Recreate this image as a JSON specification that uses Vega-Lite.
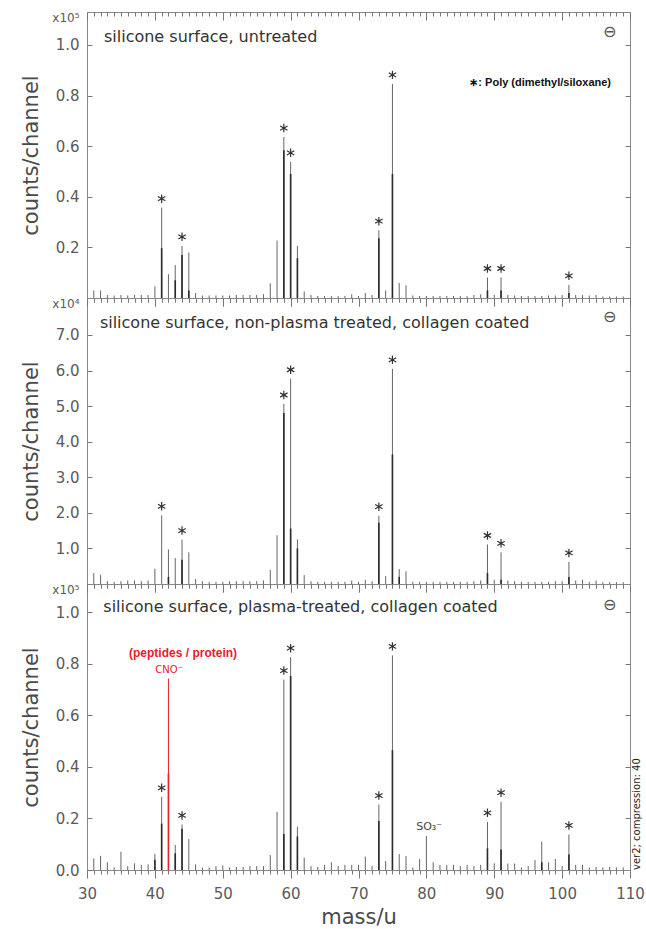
{
"$schema": "https://vega.github.io/schema/vega-lite/v6.json",
"padding": {"left": 20, "top": 10, "right": 2, "bottom": 0},
"bounds": "flush",
"spacing": 0,
"config": {
  "font": "DejaVu Sans",
  "view": {"stroke": "#888", "strokeWidth": 1},
  "axis": {"domain": false, "grid": false, "labelFont": "DejaVu Sans", "labelFontSize": 15, "labelColor": "#5a5a5a", "tickColor": "#777", "tickWidth": 1, "titleFont": "DejaVu Sans", "titleFontSize": 21, "titleFontWeight": "normal", "titleColor": "#4a4a4a", "labelOverlap": false}
},
"datasets": {
"p1": [
{"m":31,"v":0.03},{"m":32,"v":0.03},{"m":33,"v":0.012},{"m":34,"v":0.01},{"m":35,"v":0.012},{"m":36,"v":0.01},{"m":37,"v":0.012},{"m":38,"v":0.012},{"m":39,"v":0.012},{"m":40,"v":0.046},
{"m":41,"v":0.357,"c":0.197,"s":1},{"m":42,"v":0.094},{"m":43,"v":0.13,"c":0.07},{"m":44,"v":0.206,"c":0.17,"s":1},{"m":45,"v":0.18,"c":0.03},{"m":46,"v":0.02},{"m":47,"v":0.01},{"m":48,"v":0.01},{"m":49,"v":0.01},{"m":50,"v":0.01},
{"m":51,"v":0.01},{"m":52,"v":0.012},{"m":53,"v":0.012},{"m":54,"v":0.012},{"m":55,"v":0.012},{"m":56,"v":0.015},{"m":57,"v":0.058},{"m":58,"v":0.227},{"m":59,"v":0.636,"c":0.584,"s":1},{"m":60,"v":0.538,"c":0.49,"s":1},
{"m":61,"v":0.206,"c":0.157},{"m":62,"v":0.026},{"m":63,"v":0.012},{"m":64,"v":0.008},{"m":65,"v":0.008},{"m":66,"v":0.008},{"m":67,"v":0.008},{"m":68,"v":0.008},{"m":69,"v":0.015},{"m":70,"v":0.008},
{"m":71,"v":0.02},{"m":72,"v":0.012},{"m":73,"v":0.268,"c":0.236,"s":1},{"m":74,"v":0.03},{"m":75,"v":0.846,"c":0.49,"s":1},{"m":76,"v":0.059},{"m":77,"v":0.05},{"m":78,"v":0.01},{"m":79,"v":0.008},{"m":80,"v":0.008},
{"m":81,"v":0.008},{"m":82,"v":0.008},{"m":83,"v":0.008},{"m":84,"v":0.008},{"m":85,"v":0.008},{"m":86,"v":0.008},{"m":87,"v":0.012},{"m":88,"v":0.015},{"m":89,"v":0.081,"c":0.03,"s":1},{"m":90,"v":0.012},
{"m":91,"v":0.081,"c":0.03,"s":1},{"m":92,"v":0.012},{"m":93,"v":0.01},{"m":94,"v":0.008},{"m":95,"v":0.008},{"m":96,"v":0.008},{"m":97,"v":0.008},{"m":98,"v":0.01},{"m":99,"v":0.01},{"m":100,"v":0.012},
{"m":101,"v":0.052,"c":0.02,"s":1},{"m":102,"v":0.012},{"m":103,"v":0.012},{"m":104,"v":0.01},{"m":105,"v":0.012},{"m":106,"v":0.006},{"m":107,"v":0.006},{"m":108,"v":0.006},{"m":109,"v":0.006}
],
"p2": [
{"m":31,"v":0.31},{"m":32,"v":0.26},{"m":33,"v":0.08},{"m":34,"v":0.06},{"m":35,"v":0.08},{"m":36,"v":0.1},{"m":37,"v":0.1},{"m":38,"v":0.08},{"m":39,"v":0.1},{"m":40,"v":0.43},
{"m":41,"v":1.93,"s":1},{"m":42,"v":0.97,"c":0.2},{"m":43,"v":0.73},{"m":44,"v":1.25,"c":0.68,"s":1},{"m":45,"v":0.89},{"m":46,"v":0.14},{"m":47,"v":0.08},{"m":48,"v":0.06},{"m":49,"v":0.06},{"m":50,"v":0.06},
{"m":51,"v":0.08},{"m":52,"v":0.08},{"m":53,"v":0.08},{"m":54,"v":0.08},{"m":55,"v":0.08},{"m":56,"v":0.1},{"m":57,"v":0.4},{"m":58,"v":1.37},{"m":59,"v":5.06,"c":4.81,"s":1},{"m":60,"v":5.77,"c":1.56,"s":1},
{"m":61,"v":1.25,"c":1.0},{"m":62,"v":0.25},{"m":63,"v":0.08},{"m":64,"v":0.06},{"m":65,"v":0.06},{"m":66,"v":0.06},{"m":67,"v":0.06},{"m":68,"v":0.06},{"m":69,"v":0.1},{"m":70,"v":0.06},
{"m":71,"v":0.12},{"m":72,"v":0.08},{"m":73,"v":1.92,"c":1.72,"s":1},{"m":74,"v":0.22},{"m":75,"v":6.05,"c":3.64,"s":1},{"m":76,"v":0.42,"c":0.2},{"m":77,"v":0.36},{"m":78,"v":0.06},{"m":79,"v":0.06},{"m":80,"v":0.06},
{"m":81,"v":0.06},{"m":82,"v":0.06},{"m":83,"v":0.06},{"m":84,"v":0.06},{"m":85,"v":0.06},{"m":86,"v":0.06},{"m":87,"v":0.08},{"m":88,"v":0.1},{"m":89,"v":1.11,"c":0.31,"s":1},{"m":90,"v":0.12},
{"m":91,"v":0.89,"c":0.12,"s":1},{"m":92,"v":0.1},{"m":93,"v":0.08},{"m":94,"v":0.06},{"m":95,"v":0.06},{"m":96,"v":0.06},{"m":97,"v":0.06},{"m":98,"v":0.06},{"m":99,"v":0.08},{"m":100,"v":0.08},
{"m":101,"v":0.62,"c":0.2,"s":1},{"m":102,"v":0.1},{"m":103,"v":0.12},{"m":104,"v":0.06},{"m":105,"v":0.1},{"m":106,"v":0.05},{"m":107,"v":0.05},{"m":108,"v":0.05},{"m":109,"v":0.05}
],
"p3": [
{"m":31,"v":0.045},{"m":32,"v":0.055},{"m":33,"v":0.03},{"m":34,"v":0.01},{"m":35,"v":0.071},{"m":36,"v":0.015},{"m":37,"v":0.026},{"m":38,"v":0.02},{"m":39,"v":0.022},{"m":40,"v":0.063,"c":0.04},
{"m":41,"v":0.284,"c":0.18,"s":1},{"m":42,"v":0.743,"c":0.375,"r":1},{"m":43,"v":0.097,"c":0.065},{"m":44,"v":0.177,"c":0.16,"s":1},{"m":45,"v":0.12},{"m":46,"v":0.022},{"m":47,"v":0.01},{"m":48,"v":0.01},{"m":49,"v":0.015},{"m":50,"v":0.018},
{"m":51,"v":0.01},{"m":52,"v":0.012},{"m":53,"v":0.012},{"m":54,"v":0.015},{"m":55,"v":0.015},{"m":56,"v":0.015},{"m":57,"v":0.058},{"m":58,"v":0.226},{"m":59,"v":0.739,"c":0.14,"s":1},{"m":60,"v":0.826,"c":0.753,"s":1},
{"m":61,"v":0.168,"c":0.13},{"m":62,"v":0.048},{"m":63,"v":0.015},{"m":64,"v":0.012},{"m":65,"v":0.02},{"m":66,"v":0.03},{"m":67,"v":0.015},{"m":68,"v":0.02},{"m":69,"v":0.02},{"m":70,"v":0.02},
{"m":71,"v":0.052},{"m":72,"v":0.015},{"m":73,"v":0.254,"c":0.19,"s":1},{"m":74,"v":0.035},{"m":75,"v":0.833,"c":0.465,"s":1},{"m":76,"v":0.062},{"m":77,"v":0.054},{"m":78,"v":0.01},{"m":79,"v":0.043},{"m":80,"v":0.132},
{"m":81,"v":0.03},{"m":82,"v":0.02},{"m":83,"v":0.02},{"m":84,"v":0.02},{"m":85,"v":0.015},{"m":86,"v":0.02},{"m":87,"v":0.015},{"m":88,"v":0.02},{"m":89,"v":0.187,"c":0.084,"s":1},{"m":90,"v":0.026},
{"m":91,"v":0.265,"c":0.08,"s":1},{"m":92,"v":0.025},{"m":93,"v":0.025},{"m":94,"v":0.01},{"m":95,"v":0.015},{"m":96,"v":0.039},{"m":97,"v":0.11,"c":0.03},{"m":98,"v":0.03},{"m":99,"v":0.043},{"m":100,"v":0.015},
{"m":101,"v":0.138,"c":0.06,"s":1},{"m":102,"v":0.02},{"m":103,"v":0.02},{"m":104,"v":0.01},{"m":105,"v":0.012},{"m":106,"v":0.01},{"m":107,"v":0.012},{"m":108,"v":0.01},{"m":109,"v":0.01}
]
},
"vconcat": [
{
 "width": 543, "height": 286,
 "data": {"name": "p1"},
 "layer": [
  {"mark": {"type": "rule", "color": "#666", "strokeWidth": 1},
   "encoding": {
    "x": {"field": "m", "type": "quantitative", "scale": {"domain": [30, 110], "nice": false},
      "axis": {"orient": "bottom", "values": [30,31,32,33,34,35,36,37,38,39,40,41,42,43,44,45,46,47,48,49,50,51,52,53,54,55,56,57,58,59,60,61,62,63,64,65,66,67,68,69,70,71,72,73,74,75,76,77,78,79,80,81,82,83,84,85,86,87,88,89,90,91,92,93,94,95,96,97,98,99,100,101,102,103,104,105,106,107,108,109,110], "labels": false, "title": null,
       "tickSize": {"condition": {"test": "datum.value % 10 === 0", "value": 8}, "value": 4}}},
    "y": {"field": "v", "type": "quantitative", "scale": {"domain": [0, 1.13], "nice": false},
      "axis": {"orient": "left", "values": [0.2, 0.4, 0.6, 0.8, 1.0, 1.13], "format": ".1f", "labelExpr": "datum.value > 1.05 ? 'x10⁵' : datum.label", "tickSize": -5, "labelPadding": 13,
       "labelFontSize": {"condition": {"test": "datum.value > 1.05", "value": 12}, "value": 15},
       "labelBaseline": {"condition": {"test": "datum.value > 1.05", "value": "top"}, "value": "middle"},
       "tickOpacity": {"condition": {"test": "datum.value > 1.05", "value": 0}, "value": 1},
       "title": "counts/channel", "titlePadding": 10}},
    "y2": {"datum": 0}
   }},
  {"transform": [{"filter": "datum.c > 0"}],
   "mark": {"type": "rule", "color": "#2a2a2a", "strokeWidth": 1.6},
   "encoding": {
    "x": {"field": "m", "type": "quantitative", "scale": {"domain": [30, 110], "nice": false},
      "axis": {"orient": "top", "values": [30,31,32,33,34,35,36,37,38,39,40,41,42,43,44,45,46,47,48,49,50,51,52,53,54,55,56,57,58,59,60,61,62,63,64,65,66,67,68,69,70,71,72,73,74,75,76,77,78,79,80,81,82,83,84,85,86,87,88,89,90,91,92,93,94,95,96,97,98,99,100,101,102,103,104,105,106,107,108,109,110], "labels": false, "title": null,
       "tickSize": {"condition": {"test": "datum.value % 10 === 0", "value": -8}, "value": -4}}},
    "y": {"field": "c", "type": "quantitative", "scale": {"domain": [0, 1.13], "nice": false},
      "axis": {"orient": "right", "values": [0.2, 0.4, 0.6, 0.8, 1.0], "labels": false, "tickSize": -5, "title": null}},
    "y2": {"datum": 0}
   }},
  {"transform": [{"filter": "datum.s == 1"}],
   "mark": {"type": "point", "shape": "M0,-1L0,1M-0.866,-0.5L0.866,0.5M-0.866,0.5L0.866,-0.5", "filled": false, "stroke": "#333", "strokeWidth": 1.2, "size": 72, "yOffset": -9, "opacity": 1},
   "encoding": {
    "x": {"field": "m", "type": "quantitative", "scale": {"domain": [30, 110], "nice": false}, "axis": null},
    "y": {"field": "v", "type": "quantitative", "scale": {"domain": [0, 1.13], "nice": false}, "axis": null}
   }},
  {"data": {"values": [{}]},
   "mark": {"type": "text", "text": "silicone surface, untreated", "align": "left", "baseline": "middle", "font": "DejaVu Sans", "fontSize": 16, "color": "#333"},
   "encoding": {"x": {"datum": 32.5, "type": "quantitative", "axis": null}, "y": {"datum": 1.03, "type": "quantitative", "axis": null}}},
  {"data": {"values": [{}]},
   "mark": {"type": "text", "text": "⊖", "align": "center", "baseline": "middle", "font": "DejaVu Sans", "fontSize": 16, "color": "#555"},
   "encoding": {"x": {"datum": 107, "type": "quantitative", "axis": null}, "y": {"datum": 1.05, "type": "quantitative", "axis": null}}},
  {"data": {"values": [{}]},
   "mark": {"type": "text", "text": "∗: Poly (dimethyl/siloxane)", "align": "right", "baseline": "middle", "font": "Liberation Sans", "fontWeight": "bold", "fontSize": 11, "color": "#111"},
   "encoding": {"x": {"datum": 107.2, "type": "quantitative", "axis": null}, "y": {"datum": 0.85, "type": "quantitative", "axis": null}}}
 ],
 "resolve": {"axis": {"x": "independent", "y": "independent"}}
},
{
 "width": 543, "height": 286,
 "data": {"name": "p2"},
 "layer": [
  {"mark": {"type": "rule", "color": "#666", "strokeWidth": 1},
   "encoding": {
    "x": {"field": "m", "type": "quantitative", "scale": {"domain": [30, 110], "nice": false},
      "axis": {"orient": "bottom", "values": [30,31,32,33,34,35,36,37,38,39,40,41,42,43,44,45,46,47,48,49,50,51,52,53,54,55,56,57,58,59,60,61,62,63,64,65,66,67,68,69,70,71,72,73,74,75,76,77,78,79,80,81,82,83,84,85,86,87,88,89,90,91,92,93,94,95,96,97,98,99,100,101,102,103,104,105,106,107,108,109,110], "labels": false, "title": null,
       "tickSize": {"condition": {"test": "datum.value % 10 === 0", "value": 8}, "value": 4}}},
    "y": {"field": "v", "type": "quantitative", "scale": {"domain": [0, 8.04], "nice": false},
      "axis": {"orient": "left", "values": [1, 2, 3, 4, 5, 6, 7, 8.04], "format": ".1f", "labelExpr": "datum.value > 7.5 ? 'x10⁴' : datum.label", "tickSize": -5, "labelPadding": 13,
       "labelFontSize": {"condition": {"test": "datum.value > 7.5", "value": 12}, "value": 15},
       "labelBaseline": {"condition": {"test": "datum.value > 7.5", "value": "top"}, "value": "middle"},
       "tickOpacity": {"condition": {"test": "datum.value > 7.5", "value": 0}, "value": 1},
       "title": "counts/channel", "titlePadding": 10}},
    "y2": {"datum": 0}
   }},
  {"transform": [{"filter": "datum.c > 0"}],
   "mark": {"type": "rule", "color": "#2a2a2a", "strokeWidth": 1.6},
   "encoding": {
    "x": {"field": "m", "type": "quantitative", "scale": {"domain": [30, 110], "nice": false},
      "axis": {"orient": "top", "values": [30,31,32,33,34,35,36,37,38,39,40,41,42,43,44,45,46,47,48,49,50,51,52,53,54,55,56,57,58,59,60,61,62,63,64,65,66,67,68,69,70,71,72,73,74,75,76,77,78,79,80,81,82,83,84,85,86,87,88,89,90,91,92,93,94,95,96,97,98,99,100,101,102,103,104,105,106,107,108,109,110], "labels": false, "title": null,
       "tickSize": {"condition": {"test": "datum.value % 10 === 0", "value": -8}, "value": -4}}},
    "y": {"field": "c", "type": "quantitative", "scale": {"domain": [0, 8.04], "nice": false},
      "axis": {"orient": "right", "values": [1, 2, 3, 4, 5, 6, 7], "labels": false, "tickSize": -5, "title": null}},
    "y2": {"datum": 0}
   }},
  {"transform": [{"filter": "datum.s == 1"}],
   "mark": {"type": "point", "shape": "M0,-1L0,1M-0.866,-0.5L0.866,0.5M-0.866,0.5L0.866,-0.5", "filled": false, "stroke": "#333", "strokeWidth": 1.2, "size": 72, "yOffset": -9, "opacity": 1},
   "encoding": {
    "x": {"field": "m", "type": "quantitative", "scale": {"domain": [30, 110], "nice": false}, "axis": null},
    "y": {"field": "v", "type": "quantitative", "scale": {"domain": [0, 8.04], "nice": false}, "axis": null}
   }},
  {"data": {"values": [{}]},
   "mark": {"type": "text", "text": "silicone surface, non-plasma treated, collagen coated", "align": "left", "baseline": "middle", "font": "DejaVu Sans", "fontSize": 16, "color": "#333"},
   "encoding": {"x": {"datum": 31.9, "type": "quantitative", "axis": null}, "y": {"datum": 7.33, "type": "quantitative", "axis": null}}},
  {"data": {"values": [{}]},
   "mark": {"type": "text", "text": "⊖", "align": "center", "baseline": "middle", "font": "DejaVu Sans", "fontSize": 16, "color": "#555"},
   "encoding": {"x": {"datum": 107, "type": "quantitative", "axis": null}, "y": {"datum": 7.5, "type": "quantitative", "axis": null}}}
 ],
 "resolve": {"axis": {"x": "independent", "y": "independent"}}
},
{
 "width": 543, "height": 286,
 "data": {"name": "p3"},
 "layer": [
  {"mark": {"type": "rule", "strokeWidth": 1},
   "encoding": {
    "x": {"field": "m", "type": "quantitative", "scale": {"domain": [30, 110], "nice": false},
      "axis": {"orient": "bottom", "values": [30,31,32,33,34,35,36,37,38,39,40,41,42,43,44,45,46,47,48,49,50,51,52,53,54,55,56,57,58,59,60,61,62,63,64,65,66,67,68,69,70,71,72,73,74,75,76,77,78,79,80,81,82,83,84,85,86,87,88,89,90,91,92,93,94,95,96,97,98,99,100,101,102,103,104,105,106,107,108,109,110],
       "labelExpr": "datum.value % 10 === 0 ? datum.label : ''", "labelPadding": 8, "labelFlush": false,
       "tickSize": {"condition": {"test": "datum.value % 10 === 0", "value": 8}, "value": 4},
       "title": "mass/u", "titlePadding": 5}},
    "y": {"field": "v", "type": "quantitative", "scale": {"domain": [0, 1.11], "nice": false},
      "axis": {"orient": "left", "values": [0, 0.2, 0.4, 0.6, 0.8, 1.0, 1.11], "format": ".1f", "labelExpr": "datum.value > 1.05 ? 'x10⁵' : datum.label", "tickSize": -5, "labelPadding": 13,
       "labelFontSize": {"condition": {"test": "datum.value > 1.05", "value": 12}, "value": 15},
       "labelBaseline": {"condition": {"test": "datum.value > 1.05", "value": "top"}, "value": "middle"},
       "tickOpacity": {"condition": {"test": "datum.value > 1.05", "value": 0}, "value": 1},
       "title": "counts/channel", "titlePadding": 10}},
    "y2": {"datum": 0},
    "color": {"condition": {"test": "datum.r == 1", "value": "#e8202a"}, "value": "#666"}
   }},
  {"transform": [{"filter": "datum.c > 0"}],
   "mark": {"type": "rule", "strokeWidth": 1.6},
   "encoding": {
    "x": {"field": "m", "type": "quantitative", "scale": {"domain": [30, 110], "nice": false},
      "axis": {"orient": "top", "values": [30,31,32,33,34,35,36,37,38,39,40,41,42,43,44,45,46,47,48,49,50,51,52,53,54,55,56,57,58,59,60,61,62,63,64,65,66,67,68,69,70,71,72,73,74,75,76,77,78,79,80,81,82,83,84,85,86,87,88,89,90,91,92,93,94,95,96,97,98,99,100,101,102,103,104,105,106,107,108,109,110], "labels": false, "title": null,
       "tickSize": {"condition": {"test": "datum.value % 10 === 0", "value": -8}, "value": -4}}},
    "y": {"field": "c", "type": "quantitative", "scale": {"domain": [0, 1.11], "nice": false},
      "axis": {"orient": "right", "values": [0.2, 0.4, 0.6, 0.8, 1.0], "labels": false, "tickSize": -5, "title": null}},
    "y2": {"datum": 0},
    "color": {"condition": {"test": "datum.r == 1", "value": "#e8202a"}, "value": "#2a2a2a"}
   }},
  {"transform": [{"filter": "datum.s == 1"}],
   "mark": {"type": "point", "shape": "M0,-1L0,1M-0.866,-0.5L0.866,0.5M-0.866,0.5L0.866,-0.5", "filled": false, "stroke": "#333", "strokeWidth": 1.2, "size": 72, "yOffset": -9, "opacity": 1},
   "encoding": {
    "x": {"field": "m", "type": "quantitative", "scale": {"domain": [30, 110], "nice": false}, "axis": null},
    "y": {"field": "v", "type": "quantitative", "scale": {"domain": [0, 1.11], "nice": false}, "axis": null}
   }},
  {"data": {"values": [{}]},
   "mark": {"type": "text", "text": "silicone surface, plasma-treated, collagen coated", "align": "left", "baseline": "middle", "font": "DejaVu Sans", "fontSize": 16, "color": "#333"},
   "encoding": {"x": {"datum": 32.4, "type": "quantitative", "axis": null}, "y": {"datum": 1.02, "type": "quantitative", "axis": null}}},
  {"data": {"values": [{}]},
   "mark": {"type": "text", "text": "⊖", "align": "center", "baseline": "middle", "font": "DejaVu Sans", "fontSize": 16, "color": "#555"},
   "encoding": {"x": {"datum": 107, "type": "quantitative", "axis": null}, "y": {"datum": 1.03, "type": "quantitative", "axis": null}}},
  {"data": {"values": [{}]},
   "mark": {"type": "text", "text": "(peptides / protein)", "align": "center", "baseline": "middle", "font": "Liberation Sans", "fontWeight": "bold", "fontSize": 12, "color": "#e8202a"},
   "encoding": {"x": {"datum": 44.15, "type": "quantitative", "axis": null}, "y": {"datum": 0.841, "type": "quantitative", "axis": null}}},
  {"data": {"values": [{}]},
   "mark": {"type": "text", "text": "CNO⁻", "align": "center", "baseline": "middle", "font": "DejaVu Sans", "fontSize": 10, "color": "#e8202a"},
   "encoding": {"x": {"datum": 42.1, "type": "quantitative", "axis": null}, "y": {"datum": 0.775, "type": "quantitative", "axis": null}}},
  {"data": {"values": [{}]},
   "mark": {"type": "text", "text": "SO₃⁻", "align": "center", "baseline": "middle", "font": "DejaVu Sans", "fontSize": 11, "color": "#444"},
   "encoding": {"x": {"datum": 80.4, "type": "quantitative", "axis": null}, "y": {"datum": 0.167, "type": "quantitative", "axis": null}}},
  {"data": {"values": [{}]},
   "mark": {"type": "text", "text": "ver2;  compression:  40", "align": "left", "baseline": "top", "angle": 270, "dy": 2, "font": "DejaVu Sans", "fontSize": 10, "color": "#222"},
   "encoding": {"x": {"datum": 110, "type": "quantitative", "axis": null}, "y": {"datum": 0, "type": "quantitative", "axis": null}}}
 ],
 "resolve": {"axis": {"x": "independent", "y": "independent"}}
}
]
}
